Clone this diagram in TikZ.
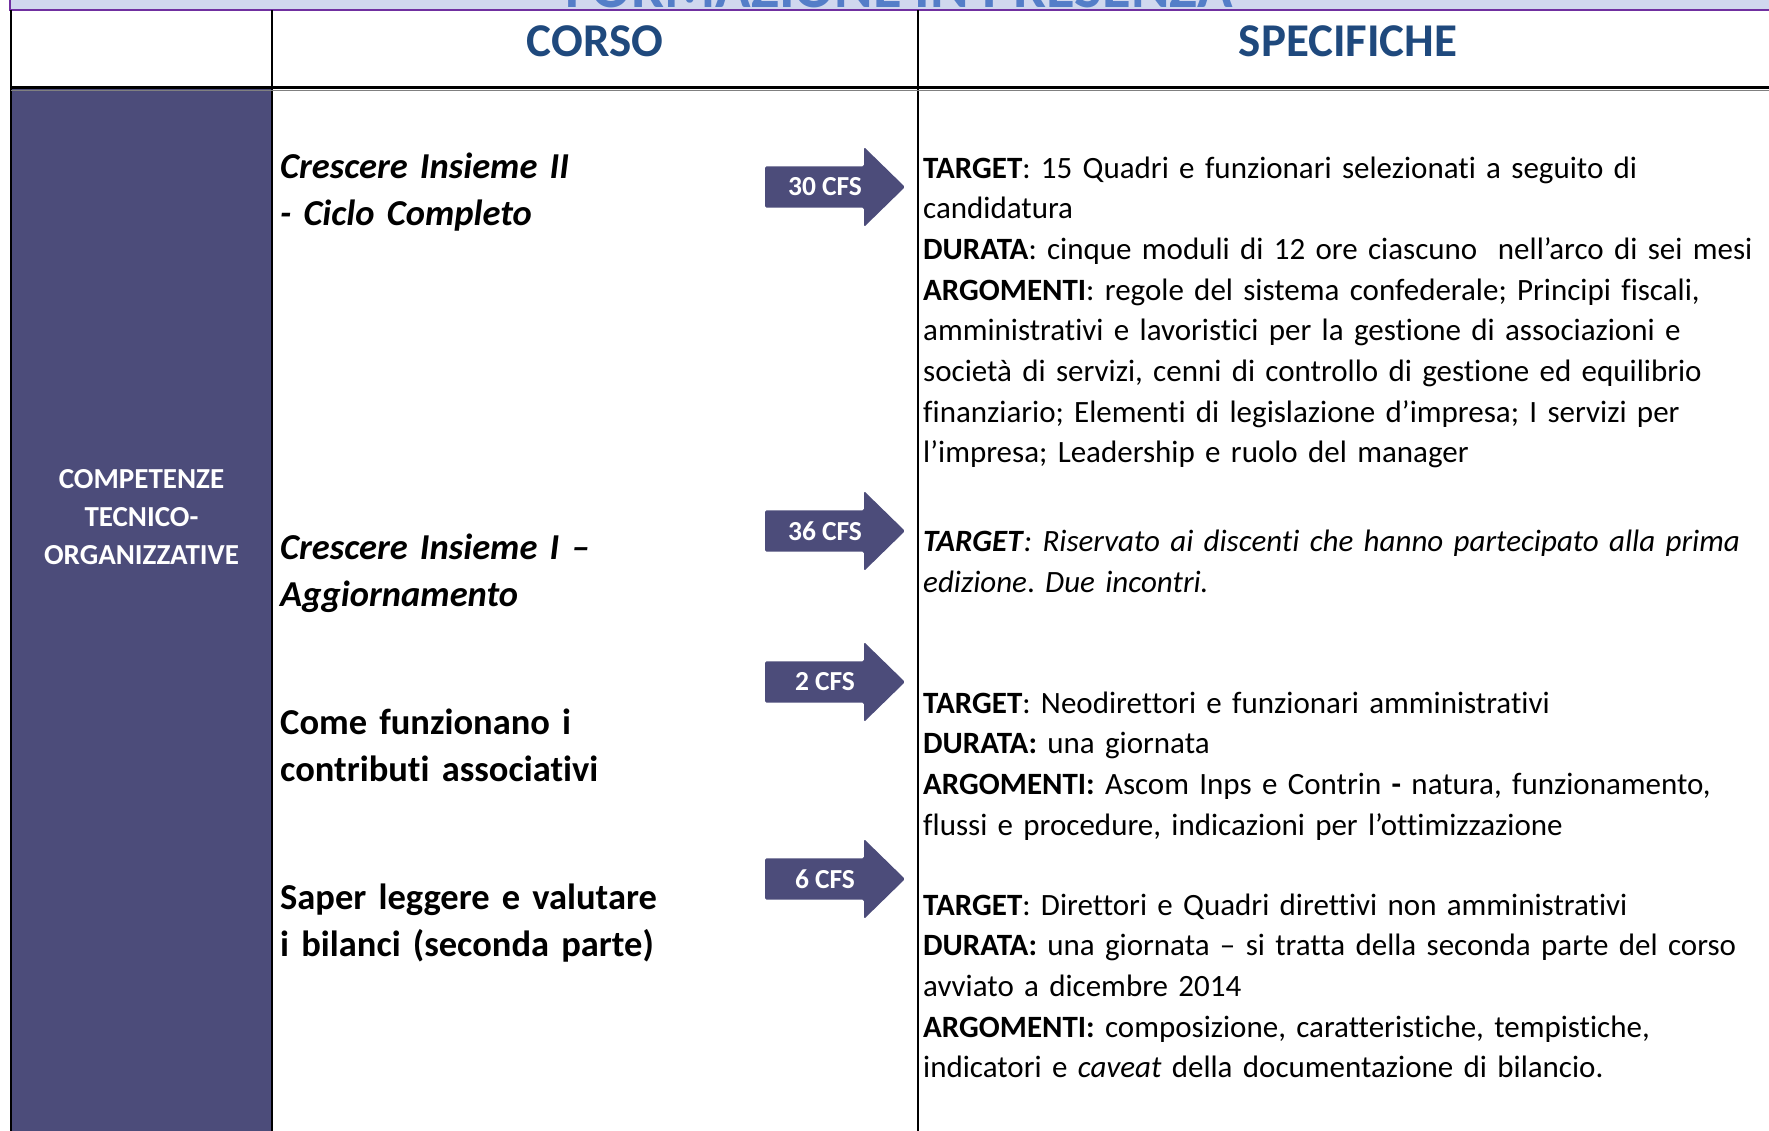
\documentclass[tikz,border=0pt]{standalone}
\usepackage{fontspec}
\setmainfont{Carlito}[Ligatures={TeX,NoCommon}]
\usepackage{tikz}
\frenchspacing

\definecolor{panel}{RGB}{76,76,122}
\definecolor{headblue}{RGB}{31,73,125}
\definecolor{bandfill}{RGB}{208,216,238}
\definecolor{bandline}{RGB}{112,48,160}
\definecolor{bandtext}{RGB}{84,126,200}

\begin{document}
\begin{tikzpicture}[x=1pt,y=-1pt,
  head/.style={font=\fontsize{47}{56}\selectfont\bfseries,text=headblue,inner sep=0},
  course/.style={anchor=base west,inner sep=0,text width=560pt,align=left,font=\fontsize{36.5}{47.2}\selectfont\bfseries},
  coursei/.style={course,font=\fontsize{36.5}{47.2}\selectfont\bfseries\itshape},
  spec/.style={anchor=base west,inner sep=0,text width=900pt,align=left,font=\fontsize{31}{40.7}\selectfont},
  cfs/.style={fill=panel,rounded corners=1.5pt},
  cfslabel/.style={text=white,font=\fontsize{27.5}{33}\selectfont\bfseries,inner sep=0}]
\path[use as bounding box,clip] (0,0) rectangle (1769,1130);
\fill[white] (0,0) rectangle (1769,1130);
% band on top
\fill[bandfill] (10,-10) rectangle (1780,10);
\node[anchor=base,inner sep=0,text=bandtext,font=\fontsize{58.6}{70}\selectfont\bfseries] (title) at (899,7) {FORMAZIONE IN PRESENZA};
\draw[bandline,line width=2.5pt] (10,-10) -- (10,10) -- (1780,10);
% table
\fill[panel] (11,88) rectangle (272,1140);
\draw[line width=2.2pt] (11,10) -- (11,1140);
\draw[line width=2pt] (272,10) -- (272,1140);
\draw[line width=2pt] (918,10) -- (918,1140);
\draw[gray,line width=1.5pt] (11,90.5) -- (1780,90.5);
\draw[line width=3pt] (11,87.5) -- (1780,87.5);
\node[head] (corso) at (595,41) {CORSO};
\node[head] (specifiche) at (1348,41) {SPECIFICHE};
\node[text=white,align=center,inner sep=0,font=\fontsize{29}{37.8}\selectfont\bfseries] (area) at (141.5,517) {COMPETENZE\\TECNICO-\\ORGANIZZATIVE};
% courses
\node[coursei] (course1) at (280,178) {Crescere Insieme II\\- Ciclo Completo};
\node[coursei] (course2) at (280,559) {Crescere Insieme I –\\Aggiornamento};
\node[course] (course3) at (280,734) {Come funzionano i\\contributi associativi};
\node[course] (course4) at (280,909) {Saper leggere e valutare\\i bilanci (seconda parte)};
% credits
\fill[cfs,shift={(0,187)}] (765,-20.7) -- (864,-20.7) -- (864,-40) -- (905,0) -- (864,40) -- (864,20.7) -- (765,20.7) -- cycle;
\fill[cfs,shift={(0,531)}] (765,-20.7) -- (864,-20.7) -- (864,-40) -- (905,0) -- (864,40) -- (864,20.7) -- (765,20.7) -- cycle;
\fill[cfs,shift={(0,682)}] (765,-20.7) -- (864,-20.7) -- (864,-40) -- (905,0) -- (864,40) -- (864,20.7) -- (765,20.7) -- cycle;
\fill[cfs,shift={(0,879)}] (765,-20.7) -- (864,-20.7) -- (864,-40) -- (905,0) -- (864,40) -- (864,20.7) -- (765,20.7) -- cycle;
\node[cfslabel] (cfs1) at (825,187) {30 CFS};
\node[cfslabel] (cfs2) at (825,531) {36 CFS};
\node[cfslabel] (cfs3) at (825,682) {2 CFS};
\node[cfslabel] (cfs4) at (825,879) {6 CFS};
% specifics
\node[spec] (spec1) at (923,178) {\textbf{TARGET}: 15 Quadri e funzionari selezionati a seguito di\\candidatura\\\textbf{DURATA}: cinque moduli di 12 ore ciascuno~ nell’arco di sei mesi\\\textbf{ARGOMENTI}: regole del sistema confederale; Principi fiscali,\\amministrativi e lavoristici per la gestione di associazioni e\\società di servizi, cenni di controllo di gestione ed equilibrio\\finanziario; Elementi di legislazione d’impresa; I servizi per\\l’impresa; Leadership e ruolo del manager};
\node[spec] (spec2) at (923,551.5) {\textbf{\textit{TARGET}}\textit{: Riservato ai discenti che hanno partecipato alla prima}\\\textit{edizione}. \textit{Due incontri.}};
\node[spec] (spec3) at (923,713) {\textbf{TARGET}: Neodirettori e funzionari amministrativi\\\textbf{DURATA:} una giornata\\\textbf{ARGOMENTI:} Ascom Inps e Contrin \textbf{-} natura, funzionamento,\\flussi e procedure, indicazioni per l’ottimizzazione};
\node[spec] (spec4) at (923,915) {\textbf{TARGET}: Direttori e Quadri direttivi non amministrativi\\\textbf{DURATA:} una giornata – si tratta della seconda parte del corso\\avviato a dicembre 2014\\\textbf{ARGOMENTI:} composizione, caratteristiche, tempistiche,\\indicatori e \textit{caveat} della documentazione di bilancio.};
\end{tikzpicture}
\end{document}
